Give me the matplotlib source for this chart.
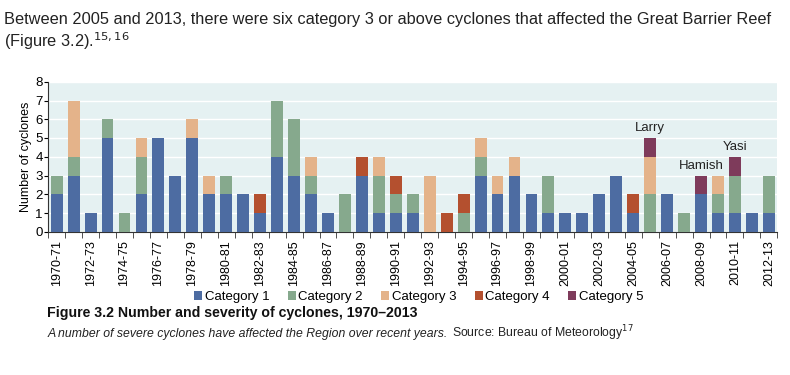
import matplotlib
matplotlib.use("Agg")
import matplotlib.pyplot as plt
import numpy as np

plt.rcParams['font.family'] = ['Liberation Sans', 'DejaVu Sans']

seasons = ['1970-71', '1971-72', '1972-73', '1973-74', '1974-75', '1975-76', '1976-77',
           '1977-78', '1978-79', '1979-80', '1980-81', '1981-82', '1982-83', '1983-84',
           '1984-85', '1985-86', '1986-87', '1987-88', '1988-89', '1989-90', '1990-91',
           '1991-92', '1992-93', '1993-94', '1994-95', '1995-96', '1996-97', '1997-98',
           '1998-99', '1999-00', '2000-01', '2001-02', '2002-03', '2003-04', '2004-05',
           '2005-06', '2006-07', '2007-08', '2008-09', '2009-10', '2010-11', '2011-12',
           '2012-13']
cat1 = [2, 3, 1, 5, 0, 2, 5, 3, 5, 2, 2, 2, 1, 4, 3, 2, 1, 0, 3, 1, 1, 1, 0, 0, 0, 3, 2, 3,
        2, 1, 1, 1, 2, 3, 1, 0, 2, 0, 2, 1, 1, 1, 1]
cat2 = [1, 1, 0, 1, 1, 2, 0, 0, 0, 0, 1, 0, 0, 3, 3, 1, 0, 2, 0, 2, 1, 1, 0, 0, 1, 1, 0, 0,
        0, 2, 0, 0, 0, 0, 0, 2, 0, 1, 0, 1, 2, 0, 2]
cat3 = [0, 3, 0, 0, 0, 1, 0, 0, 1, 1, 0, 0, 0, 0, 0, 1, 0, 0, 0, 1, 0, 0, 3, 0, 0, 1, 1, 1,
        0, 0, 0, 0, 0, 0, 0, 2, 0, 0, 0, 1, 0, 0, 0]
cat4 = [0, 0, 0, 0, 0, 0, 0, 0, 0, 0, 0, 0, 1, 0, 0, 0, 0, 0, 1, 0, 1, 0, 0, 1, 1, 0, 0, 0,
        0, 0, 0, 0, 0, 0, 1, 0, 0, 0, 0, 0, 0, 0, 0]
cat5 = [0, 0, 0, 0, 0, 0, 0, 0, 0, 0, 0, 0, 0, 0, 0, 0, 0, 0, 0, 0, 0, 0, 0, 0, 0, 0, 0, 0,
        0, 0, 0, 0, 0, 0, 0, 1, 0, 0, 1, 0, 1, 0, 0]
named = {'2005-06': 'Larry', '2008-09': 'Hamish', '2010-11': 'Yasi'}

series = [cat1, cat2, cat3, cat4, cat5]
labels = ['Category 1', 'Category 2', 'Category 3', 'Category 4', 'Category 5']
colors = ['#4d6ca2', '#86a98d', '#e4b38a', '#b4502f', '#7e3b5b']

fig = plt.figure(figsize=(7.9, 3.75), dpi=100)
ax = fig.add_axes([0.061, 0.382, 0.923, 0.40])
ax.set_facecolor('#e5f1f2')

x = np.arange(len(seasons))
bottom = np.zeros(len(seasons))
for vals, lab, col in zip(series, labels, colors):
    ax.bar(x, vals, 0.7, bottom=bottom, color=col, label=lab, zorder=3)
    bottom += np.array(vals)

for s, name in named.items():
    i = seasons.index(s)
    ax.text(i, bottom[i] + 0.2, name, ha='center', va='bottom', fontsize=9.5, color='#222222')

ax.set_xlim(-0.5, len(seasons) - 0.5)
ax.set_ylim(0, 8)
ax.set_yticks(range(9))
ax.yaxis.grid(True, color='white', linewidth=1, zorder=0)
ax.set_ylabel('Number of cyclones', fontsize=9, labelpad=2)
ax.tick_params(axis='y', labelsize=9.5, length=3, pad=1)

ax.set_xticks(x[::2])
ax.set_xticklabels(seasons[::2], rotation=90, fontsize=9)
ax.set_xticks(np.arange(-0.5, len(seasons) + 0.5, 1), minor=True)
ax.tick_params(axis='x', which='major', length=0, pad=6)
ax.tick_params(axis='x', which='minor', length=4, color='#333333')

for sp in ['top', 'right']:
    ax.spines[sp].set_visible(False)
ax.spines['left'].set_color('#333333')
ax.spines['bottom'].set_color('#333333')

fig.legend(loc='center', bbox_to_anchor=(0.53, 0.208), ncol=5, frameon=False,
           fontsize=9.5, handlelength=0.6, handleheight=0.6, handletextpad=0.2,
           columnspacing=1.4, borderaxespad=0)

fig.text(0.005, 0.935, 'Between 2005 and 2013, there were six category 3 or above cyclones that affected the Great Barrier Reef',
         fontsize=11.8, color='#222222')
fig.text(0.005, 0.875, '(Figure 3.2).$^{15,16}$', fontsize=11.8, color='#222222')

fig.text(0.06, 0.155, 'Figure 3.2 Number and severity of cyclones, 1970\u20132013',
         fontsize=10.2, fontweight='bold', color='#111111')
sub = fig.text(0.06, 0.1, 'A number of severe cyclones have affected the Region over recent years.',
               fontsize=8.8, style='italic', color='#222222', va='baseline')
fig.canvas.draw()
ext = sub.get_window_extent(renderer=fig.canvas.get_renderer())
fig.text(ext.x1 / fig.bbox.width + 0.005, 0.1, 'Source: Bureau of Meteorology$^{17}$',
         fontsize=8.8, color='#222222', va='baseline')

fig.savefig('out.png', dpi=100)
